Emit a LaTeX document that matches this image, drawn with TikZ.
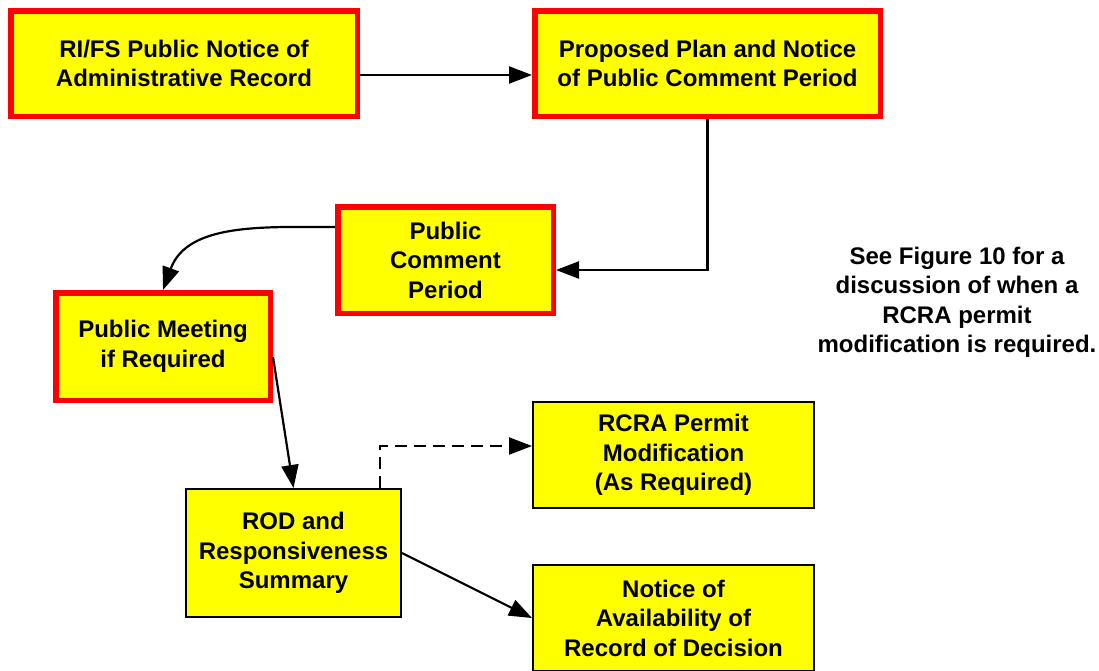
\documentclass[tikz,border=0pt]{standalone}
\usepackage{fontspec}
\setmainfont{Liberation Sans}
\usetikzlibrary{arrows.meta}
\definecolor{boxyellow}{RGB}{255,255,0}
\definecolor{boxred}{RGB}{255,0,0}
\begin{document}
\begin{tikzpicture}[x=1pt,y=-1pt,
  txt/.style={font=\fontsize{24}{29.5}\selectfont\bfseries, align=center},
  redbox/.style={txt, draw=boxred, fill=boxyellow, line width=5.5pt, inner sep=0pt},
  blackbox/.style={txt, draw=black, fill=boxyellow, line width=2pt, inner sep=0pt},
  arr/.style={draw=black, line width=2.2pt, -{Triangle[length=23pt,width=17pt]}},
]
\useasboundingbox (0,0) rectangle (1099,670);

\node[redbox, minimum width=346.5pt, minimum height=105.5pt] (b1) at (184,63.5)
  {RI/FS Public Notice of\\Administrative Record};
\node[redbox, minimum width=345.5pt, minimum height=105.5pt] (b2) at (707.5,63.5)
  {Proposed Plan and Notice\\of Public Comment Period};
\node[redbox, minimum width=215.5pt, minimum height=106.5pt] (b3) at (445.5,260)
  {Public\\Comment\\Period};
\node[redbox, minimum width=214.5pt, minimum height=107.5pt] (b4) at (163,346.5)
  {Public Meeting\\if Required};
\node[blackbox, minimum width=215pt, minimum height=128pt] (rod) at (293.5,553)
  {ROD and\\Responsiveness\\Summary};
\node[blackbox, minimum width=281pt, minimum height=106pt] (b6) at (673.5,455)
  {RCRA Permit\\Modification\\(As Required)};
\node[blackbox, minimum width=281pt, minimum height=106pt] (b7) at (673.5,618)
  {Notice of\\Availability of\\Record of Decision};

\node[txt] (note) at (957,302.5)
  {See Figure 10 for a\\discussion of when a\\RCRA permit\\modification is required.};

\draw[arr] ([yshift=-11.5pt]b1.east) -- ([yshift=-11.5pt]b2.west);
\draw[arr] (b2.south) |- ([yshift=-10pt]b3.east);
\draw[arr] ([yshift=33pt]b3.west) to[out=180,in=70] (b4.north);
\draw[arr] ([yshift=-10.5pt]b4.east) -- (rod.north);
\draw[arr, dash pattern=on 12pt off 7pt] ([xshift=86.5pt]rod.north) |- ([yshift=9pt]b6.west);
\draw[arr] (rod.east) -- (b7.west);
\end{tikzpicture}
\end{document}
